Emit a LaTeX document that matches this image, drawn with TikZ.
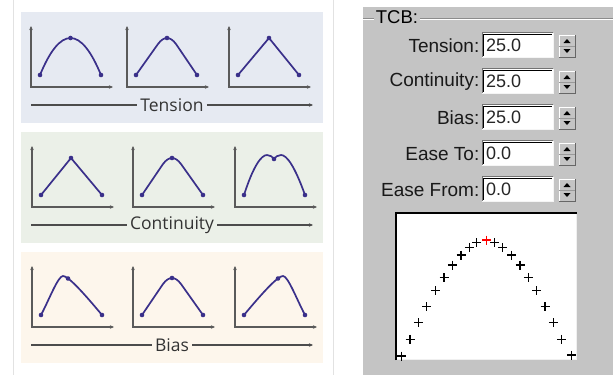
\documentclass[tikz,border=0pt]{standalone}
\usepackage{fontspec}
\setmainfont{Liberation Sans}
\newfontfamily\legfont{Open Sans}
\usetikzlibrary{arrows.meta}

\definecolor{courbe}{RGB}{58,48,138}
\definecolor{fondA}{RGB}{230,234,242}
\definecolor{fondB}{RGB}{235,240,232}
\definecolor{fondC}{RGB}{253,246,236}
\definecolor{gris}{RGB}{196,196,196}
\definecolor{axe}{RGB}{90,90,90}
\definecolor{sep}{RGB}{226,226,226}

\tikzset{
  courbe/.style={draw=courbe, line width=1.7pt, line join=round, line cap=round},
  pt/.style={circle, fill=courbe, inner sep=0pt, minimum size=4.6pt},
  axe/.style={draw=axe, line width=1.1pt, {Stealth[length=4pt,width=3.5pt]}-{Stealth[length=4pt,width=3.5pt]}},
  fleche/.style={draw=black!70, line width=1.1pt},
  legende/.style={font=\legfont\fontsize{17.5}{20}\selectfont, text=black!80, inner sep=3pt},
  etiq/.style={anchor=east, font=\fontsize{19}{21}\selectfont, text=black!90, inner sep=0pt},
  valeur/.style={anchor=west, font=\fontsize{18}{20}\selectfont, text=black!85, inner sep=0pt},
  saisie/.style={fill=white, minimum width=71pt, minimum height=24pt, inner sep=0pt, anchor=west},
  fleches/.style={fill=gris, minimum width=16pt, minimum height=22pt, inner sep=0pt},
  croix/.style={draw=black, line width=1.3pt}
}

% trois points : gauche, milieu, droite
\newcommand{\pts}[3]{%
  \node[pt] (#1-g) at (9,12) {};
  \node[pt] (#1-m) at (#2,#3) {};
  \node[pt] (#1-d) at (70,12) {};}
\newcommand{\repere}{\draw[axe] (0,61) -- (0,0) -- (82,0);}

\begin{document}
\begin{tikzpicture}[x=1pt, y=-1pt]
  \useasboundingbox (0,0) rectangle (613,375);
  \fill[white] (0,0) rectangle (613,375);

  % Les séparateurs
  \draw[sep, line width=1pt] (13,0) -- (13,375);
  \draw[sep, line width=1pt] (333,0) -- (333,375);

  % Les bandeaux et leurs légendes
  \foreach \k/\fond/\nom in {0/fondA/Tension, 1/fondB/Continuity, 2/fondC/Bias} {
    \fill[\fond] (21,12+120*\k) rectangle (323,123+120*\k);
    \coordinate (deb\k) at (31,105+120*\k);
    \coordinate (fin\k) at (313,105+120*\k);
    \node[legende] (leg\k) at (172,105+120*\k) {\nom};
    \draw[fleche] (deb\k) -- (leg\k.west);
    \draw[fleche, -{Stealth[length=4pt,width=3.5pt]}] (leg\k.east) -- (fin\k);
  }

  % Tension
  \begin{scope}[shift={(31,87)}, yscale=-1]
    \repere \pts{t1}{39.5}{49}
    \draw[courbe] (t1-g.center) .. controls (29.3,61.3) and (49.7,61.3) .. (t1-d.center);
  \end{scope}
  \begin{scope}[shift={(127,87)}, yscale=-1]
    \repere \pts{t2}{40}{49}
    \draw[courbe] (t2-g.center) -- (31,43) .. controls (37,51) and (43,51) .. (49,43) -- (t2-d.center);
  \end{scope}
  \begin{scope}[shift={(229,87)}, yscale=-1]
    \repere \pts{t3}{40}{49}
    \draw[courbe] (t3-g.center) -- (t3-m.center) -- (t3-d.center);
  \end{scope}

  % Continuity
  \begin{scope}[shift={(32,207)}, yscale=-1]
    \repere \pts{c1}{39}{49}
    \draw[courbe] (c1-g.center) -- (c1-m.center) -- (c1-d.center);
  \end{scope}
  \begin{scope}[shift={(133,207)}, yscale=-1]
    \repere \pts{c2}{39}{49}
    \draw[courbe] (c2-g.center) -- (30,43) .. controls (36,51) and (42,51) .. (48,43) -- (c2-d.center);
  \end{scope}
  \begin{scope}[shift={(235,207)}, yscale=-1]
    \repere \pts{c3}{39}{48}
    \draw[courbe] (c3-g.center) .. controls (18,40) and (26,52) .. (32,52)
      .. controls (35,52) and (38,50) .. (c3-m.center)
      .. controls (40,50) and (43,52) .. (46,52)
      .. controls (52,52) and (60,40) .. (c3-d.center);
  \end{scope}

  % Bias
  \begin{scope}[shift={(32,327)}, yscale=-1]
    \repere \pts{b1}{36}{48.5}
    \draw[courbe] (b1-g.center) .. controls (17,27) and (26,51) .. (31,51)
      .. controls (36,51) and (50,36) .. (b1-d.center);
  \end{scope}
  \begin{scope}[shift={(133,327)}, yscale=-1]
    \repere \pts{b2}{39}{49}
    \draw[courbe] (b2-g.center) -- (30,43) .. controls (36,51) and (42,51) .. (48,43) -- (b2-d.center);
  \end{scope}
  \begin{scope}[shift={(235,327)}, yscale=-1]
    \repere \pts{b3}{43}{48.5}
    \draw[courbe] (b3-g.center) .. controls (29,36) and (43,51) .. (48,51)
      .. controls (53,51) and (62,27) .. (b3-d.center);
  \end{scope}

  % Le panneau TCB
  \fill[gris] (363,7) rectangle (613,375);
  \node[font=\fontsize{18.5}{20}\selectfont, inner sep=2pt] (tcb) at (397,17) {TCB:};
  \draw[black!45] (363,18) -- (tcb.west |- 0,18);
  \draw[white] (363,19) -- (tcb.west |- 0,19);
  \draw[black!45] (tcb.east |- 0,18) -- (613,18);
  \draw[white] (tcb.east |- 0,19) -- (613,19);

  \foreach \nom/\val [count=\i from 0] in {Tension/25.0, Continuity/25.0, Bias/25.0, Ease To/0.0, Ease From/0.0} {
    \node[etiq] (lab\i) at (479.5,46+36*\i) {\nom:};
    \node[saisie] (box\i) at (482,45+36*\i) {};
    \draw[black!55, line width=1pt] (box\i.south west) -- (box\i.north west) -- (box\i.north east);
    \draw[black, line width=1.5pt] ([shift={(1.5,-1.5)}]box\i.south west) -- ([shift={(1.5,1.5)}]box\i.north west) -- ([shift={(-1,1.5)}]box\i.north east);
    \draw[white!92!gray, line width=1pt] (box\i.south west) -- (box\i.south east) -- (box\i.north east);
    \node[valeur] (val\i) at ([xshift=4pt,yshift=-0.5pt]box\i.west) {\val};
    % les flèches haut / bas
    \node[fleches] (spin\i) at (567,46+36*\i) {};
    \draw[white] (spin\i.south west) -- (spin\i.north west) -- (spin\i.north east);
    \draw[black!60] (spin\i.south west) -- (spin\i.south east) -- (spin\i.north east);
    \draw[black!40] (spin\i.west) -- (spin\i.east);
    \fill[black] ([shift={(-3.5,-3)}]spin\i.center) -- ([shift={(3.5,-3)}]spin\i.center) -- ([shift={(0,-7)}]spin\i.center) -- cycle;
    \fill[black] ([shift={(-3.5,3)}]spin\i.center) -- ([shift={(3.5,3)}]spin\i.center) -- ([shift={(0,7)}]spin\i.center) -- cycle;
  }

  % La courbe de points
  \fill[white] (395,212) rectangle (577,360);
  \draw[black, line width=2pt] (396,360) -- (396,213) -- (577,213);
  \draw[white!88!gray, line width=1.2pt] (397,359.4) -- (576.4,359.4) -- (576.4,214);
  \foreach \x/\y in {401.7/356, 410/339.3, 418.3/322.7, 426.7/306.7, 435.3/290.7, 444/277.7,
      452.3/265, 461/255, 469.3/247.3, 476.7/242.7, 494.3/242.7, 502.7/247.3, 511.7/255,
      520/265, 528.3/277.7, 536.7/290.7, 545/306.7, 553.3/322.7, 561.7/339.3, 571.7/355}
    \draw[croix] (\x-4.5,\y) -- (\x+4.5,\y) (\x,\y-4.5) -- (\x,\y+4.5);
  \draw[croix, red] (482.2,240) -- (491.2,240) (486.7,235.5) -- (486.7,244.5);
\end{tikzpicture}
\end{document}
